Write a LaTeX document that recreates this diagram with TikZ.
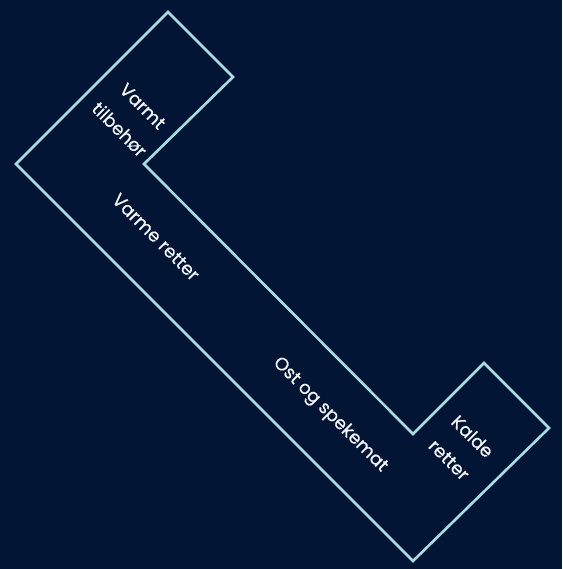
\documentclass[tikz,border=0pt]{standalone}
\usepackage{fontspec}
\setmainfont{Poppins}
\newfontfamily\lblfont{Poppins}[FakeBold=0.5]
\definecolor{bgnavy}{HTML}{021535}
\definecolor{edgecyan}{HTML}{A9DCE3}
\definecolor{txtwhite}{HTML}{F2F4F7}
\begin{document}
\begin{tikzpicture}[x=1pt,y=-1pt,
  outline/.style={draw=edgecyan,line width=2.6pt,line join=miter},
  lbl/.style={text=txtwhite,font=\lblfont\fontsize{18}{33}\selectfont,rotate=-45,align=center,inner sep=0pt}]
\fill[bgnavy] (0,0) rectangle (562,569);
\useasboundingbox (0,0) rectangle (562,569);
\coordinate (p1) at (168,12);
\coordinate (p2) at (233,77);
\coordinate (p3) at (144,164);
\coordinate (p4) at (413,434);
\coordinate (p5) at (484,363);
\coordinate (p6) at (549,428);
\coordinate (p7) at (413,561);
\coordinate (p8) at (16,164);
\draw[outline] (p1) -- (p2) -- (p3) -- (p4) -- (p5) -- (p6) -- (p7) -- (p8) -- cycle;
\node[lbl] (vt) at (131,118) {Varmt\\tilbehør};
\node[lbl] (vr) at (156,237) {Varme retter};
\node[lbl] (os) at (330,415) {Ost og spekemat};
\node[lbl] (kr) at (461,448) {Kalde\\retter};
\end{tikzpicture}
\end{document}
